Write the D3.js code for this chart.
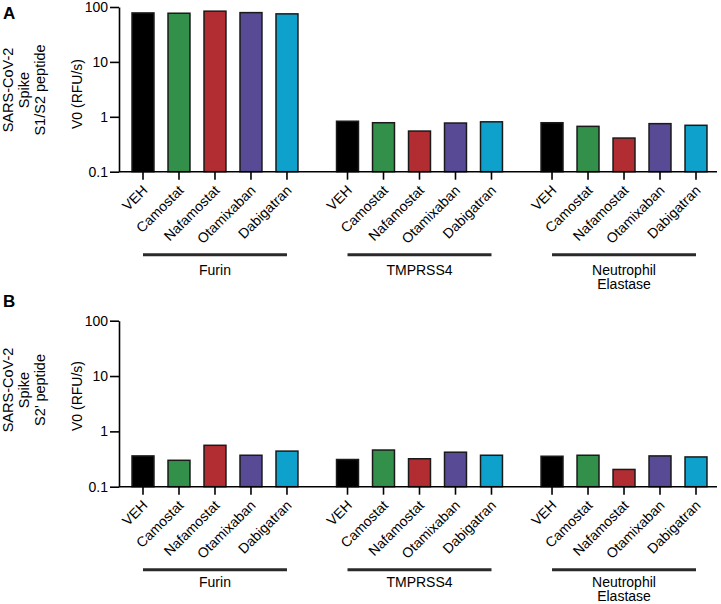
<!DOCTYPE html>
<html>
<head>
<meta charset="utf-8">
<script src="https://cdn.jsdelivr.net/npm/d3@7"></script>
<style>
  body { margin: 0; background: #fff; }
  text { font-family: "Liberation Sans", Arial, sans-serif; fill: #000; }
</style>
</head>
<body>
<div id="chart"></div>
<script>
var svgWidth = 721;
var svgHeight = 604;

// data
var groups = ["Furin", "TMPRSS4", "Neutrophil Elastase"];
var groupLabels = [["Furin"], ["TMPRSS4"], ["Neutrophil", "Elastase"]];
var drugs = ["VEH", "Camostat", "Nafamostat", "Otamixaban", "Dabigatran"];
var drugColors = ["#000000", "#33904a", "#b22d31", "#594a96", "#0ea1cc"];
var yTicks = [0.1, 1, 10, 100];

// V0 (RFU/s), one row per protease
var s1s2Values = [
  [78, 77, 84, 79, 75],
  [0.83, 0.78, 0.55, 0.77, 0.81],
  [0.78, 0.67, 0.41, 0.75, 0.70]
];
var s2Values = [
  [0.36, 0.30, 0.56, 0.37, 0.44],
  [0.31, 0.46, 0.32, 0.42, 0.37],
  [0.355, 0.37, 0.205, 0.36, 0.345]
];

var svg = d3.select("#chart")
  .append("svg")
  .attr("width", svgWidth)
  .attr("height", svgHeight);

// shared x scales: groups, then drugs inside a group
var xGroup = d3.scaleBand()
  .domain(groups)
  .range([125, 714])
  .paddingInner(0.12)
  .paddingOuter(0);

var xDrug = d3.scaleBand()
  .domain(drugs)
  .range([0, xGroup.bandwidth()])
  .paddingInner(0.39)
  .paddingOuter(0.195);

function drawPanel(opts) {
  var y = d3.scaleLog()
    .domain([0.1, 100])
    .range([opts.bottom, opts.top]);

  var g = svg.append("g");

  // panel letter
  g.append("text")
    .attr("x", 3)
    .attr("y", opts.letterY)
    .style("font-size", "17px")
    .style("font-weight", "bold")
    .text(opts.letter);

  // peptide title (rotated, 3 lines)
  opts.title.forEach(function(line, i) {
    g.append("text")
      .attr("transform", "translate(" + (12.5 + i * 16) + "," + opts.titleY + ") rotate(-90)")
      .style("text-anchor", "middle")
      .style("font-size", "14.5px")
      .text(line);
  });

  // y axis title
  g.append("text")
    .attr("transform", "translate(82," + opts.yTitleY + ") rotate(-90)")
    .style("text-anchor", "middle")
    .style("font-size", "14px")
    .text("V0 (RFU/s)");

  // bars
  groups.forEach(function(grp, gi) {
    var gg = g.append("g")
      .attr("transform", "translate(" + xGroup(grp) + ",0)");

    gg.selectAll("rect")
      .data(opts.values[gi])
      .enter()
      .append("rect")
      .attr("x", function(d, i) { return xDrug(drugs[i]); })
      .attr("y", function(d) { return y(d); })
      .attr("width", xDrug.bandwidth())
      .attr("height", function(d) { return y(0.1) - y(d); })
      .attr("fill", function(d, i) { return drugColors[i]; })
      .attr("stroke", "#1a1a1a")
      .attr("stroke-width", 1.5);

    // ticks + rotated drug names
    var ax = gg.append("g")
      .attr("transform", "translate(0," + opts.bottom + ")")
      .call(d3.axisBottom(xDrug).tickSize(8).tickSizeOuter(0));
    ax.select(".domain").remove();
    ax.selectAll("line").attr("stroke", "#000").attr("stroke-width", 1.6);
    ax.selectAll("text")
      .attr("x", 0)
      .attr("y", 0)
      .attr("dy", "0.35em")
      .attr("transform", "translate(2,16) rotate(-45)")
      .style("text-anchor", "end")
      .style("font-size", "14px")
      .style("font-family", "'Liberation Sans', Arial, sans-serif")
      .attr("fill", "#000");

    // group bracket line and label
    var x1 = xDrug(drugs[0]) + xDrug.bandwidth() / 2;
    var x2 = xDrug(drugs[drugs.length - 1]) + xDrug.bandwidth() / 2;
    gg.append("line")
      .attr("x1", x1)
      .attr("x2", x2)
      .attr("y1", opts.bottom + 83)
      .attr("y2", opts.bottom + 83)
      .attr("stroke", "#2a2a2a")
      .attr("stroke-width", 3);

    groupLabels[gi].forEach(function(line, li) {
      gg.append("text")
        .attr("x", (x1 + x2) / 2)
        .attr("y", opts.bottom + opts.labelDy + li * 14.5)
        .style("text-anchor", "middle")
        .style("font-size", "14px")
        .text(line);
    });
  });

  // x axis baseline
  g.append("line")
    .attr("x1", 119)
    .attr("x2", 717)
    .attr("y1", opts.bottom)
    .attr("y2", opts.bottom)
    .attr("stroke", "#000")
    .attr("stroke-width", 1.6);

  // y axis
  var yAxis = g.append("g")
    .attr("transform", "translate(119,0)")
    .call(d3.axisLeft(y).tickValues(yTicks).tickFormat(d3.format("~g"))
      .tickSize(9).tickSizeOuter(0).tickPadding(2));
  yAxis.selectAll("line, path").attr("stroke", "#000").attr("stroke-width", 1.6);
  yAxis.selectAll("text")
    .style("font-size", "14px")
    .style("font-family", "'Liberation Sans', Arial, sans-serif")
    .attr("fill", "#000");
}

drawPanel({
  letter: "A",
  letterY: 19,
  top: 7,
  bottom: 171.7,
  values: s1s2Values,
  title: ["SARS-CoV-2", "Spike", "S1/S2 peptide"],
  titleY: 90,
  yTitleY: 94,
  labelDy: 103
});

drawPanel({
  letter: "B",
  letterY: 307,
  top: 320.7,
  bottom: 486.7,
  values: s2Values,
  title: ["SARS-CoV-2", "Spike", "S2\u2019 peptide"],
  titleY: 390,
  yTitleY: 396,
  labelDy: 100
});
</script>
</body>
</html>
